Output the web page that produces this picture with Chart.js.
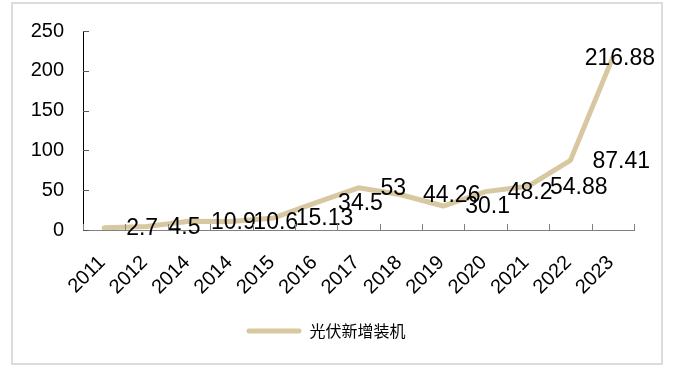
<!DOCTYPE html>
<html>
<head>
<meta charset="utf-8">
<script src="https://cdn.jsdelivr.net/npm/chart.js@4.4.1/dist/chart.umd.min.js"></script>
<style>
  html, body { margin: 0; padding: 0; background: #fff; }
  #wrap { position: relative; width: 673px; height: 369px; }
  #frame { position: absolute; left: 11px; top: 2px; width: 648px; height: 359px; border: 2px solid #dcdcdc; }
  canvas { position: absolute; left: 0; top: 0; }
</style>
</head>
<body>
<div id="wrap">
  <div id="frame"></div>
  <canvas id="pvChart" width="673" height="369"></canvas>
</div>
<script>
const years = ["2011", "2012", "2014", "2014", "2015", "2016", "2017", "2018", "2019", "2020", "2021", "2022", "2023"];
const newCapacity = [2.7, 4.5, 10.9, 10.6, 15.13, 34.5, 53, 44.26, 30.1, 48.2, 54.88, 87.41, 216.88];
const seriesName = "光伏新增装机";
const yTicks = [0, 50, 100, 150, 200, 250];

const lineColor = "#d8c8a1";
const latin = '"Liberation Sans", Arial, sans-serif';

// value labels sit just right of each point, pulled back inside the frame if they would spill out
const valueLabels = {
    id: "valueLabels",
    afterDatasetsDraw(chart) {
        const ctx = chart.ctx;
        const meta = chart.getDatasetMeta(0);
        ctx.save();
        ctx.font = "23px " + latin;
        ctx.fillStyle = "#000";
        ctx.textBaseline = "middle";
        ctx.textAlign = "left";
        meta.data.forEach((pt, i) => {
            const text = String(chart.data.datasets[0].data[i]);
            const w = ctx.measureText(text).width;
            let x = pt.x + 22;
            if (x + w > chart.width - 18) x = chart.width - 18 - w;
            ctx.fillText(text, x, pt.y + 1);
        });
        ctx.restore();
    }
};

// short tick marks pointing into the plot area
const innerTicks = {
    id: "innerTicks",
    afterDraw(chart) {
        const ctx = chart.ctx;
        const xs = chart.scales.x;
        const ys = chart.scales.y;
        ctx.save();
        ctx.lineWidth = 1;
        ctx.strokeStyle = "#595959";
        ys.ticks.forEach((t, i) => {
            const y = Math.round(ys.getPixelForTick(i)) + 0.5;
            ctx.beginPath();
            ctx.moveTo(ys.right, y);
            ctx.lineTo(ys.right + 6, y);
            ctx.stroke();
        });
        ctx.strokeStyle = "#808080";
        for (let i = 0; i <= years.length; i++) {
            const x = Math.round(xs.getPixelForValue(i - 0.5)) + 0.5;
            ctx.beginPath();
            ctx.moveTo(x, xs.top);
            ctx.lineTo(x, xs.top - 6);
            ctx.stroke();
        }
        ctx.restore();
    }
};

new Chart(document.getElementById("pvChart"), {
    type: "line",
    data: {
        labels: years,
        datasets: [{
            label: seriesName,
            data: newCapacity,
            borderColor: lineColor,
            backgroundColor: lineColor,
            borderWidth: 5,
            borderCapStyle: "round",
            borderJoinStyle: "round",
            pointRadius: 0,
            tension: 0,
            fill: false
        }]
    },
    options: {
        responsive: false,
        devicePixelRatio: 1,
        animation: false,
        layout: { padding: { left: 18, right: 39, top: 30, bottom: 20 } },
        scales: {
            x: {
                offset: true,
                grid: { display: false, drawTicks: false },
                border: { display: true, color: "#808080", width: 1 },
                ticks: {
                    autoSkip: false,
                    maxRotation: 45,
                    minRotation: 45,
                    padding: 21,
                    labelOffset: -2,
                    color: "#000",
                    font: { family: latin, size: 20 }
                },
                afterFit(scale) { scale.height = 83; }
            },
            y: {
                min: 0,
                max: 250,
                afterBuildTicks(scale) { scale.ticks = yTicks.map(v => ({ value: v })); },
                grid: { display: false, drawTicks: false },
                border: { display: true, color: "#000", width: 1 },
                ticks: {
                    padding: 19,
                    color: "#000",
                    font: { family: latin, size: 20 }
                },
                afterFit(scale) { scale.width = 65; }
            }
        },
        plugins: {
            tooltip: { enabled: false },
            legend: {
                position: "bottom",
                labels: {
                    boxWidth: 55,
                    boxHeight: 5,
                    padding: 10,
                    color: "#000",
                    useBorderRadius: true,
                    borderRadius: 2.5,
                    font: { family: '"Noto Sans CJK SC", sans-serif', size: 16 },
                    generateLabels(chart) {
                        const items = Chart.defaults.plugins.legend.labels.generateLabels(chart);
                        items.forEach(it => { it.lineWidth = 0; it.fillStyle = lineColor; });
                        return items;
                    }
                }
            }
        }
    },
    plugins: [valueLabels, innerTicks]
});
</script>
</body>
</html>
